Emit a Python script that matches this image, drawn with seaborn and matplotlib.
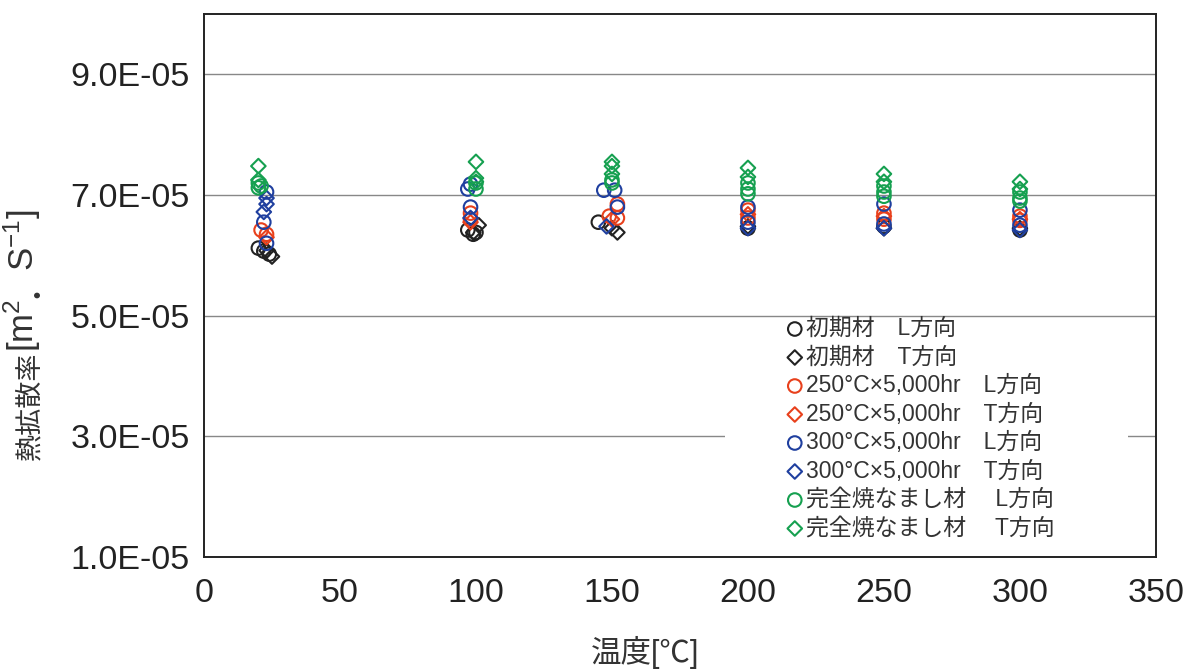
import numpy as np
import pandas as pd
import matplotlib
matplotlib.use("Agg")
import matplotlib.pyplot as plt
import matplotlib.ticker as mticker
from matplotlib.patches import Rectangle
import seaborn as sns

sns.set_theme(style="white")
plt.rcParams['font.family'] = ['Liberation Sans', 'Noto Sans CJK JP', 'DejaVu Sans']
plt.rcParams['mathtext.fontset'] = 'custom'
plt.rcParams['mathtext.rm'] = 'Liberation Sans'
plt.rcParams['mathtext.it'] = 'Liberation Sans:italic'
plt.rcParams['mathtext.default'] = 'regular'

# series labels (legend order)
labels = ["初期材　L方向", "初期材　T方向",
          "250°C×5,000hr　L方向", "250°C×5,000hr　T方向",
          "300°C×5,000hr　L方向", "300°C×5,000hr　T方向",
          "完全焼なまし材　 L方向", "完全焼なまし材　 T方向"]
colors = ["#222222", "#222222", "#e8401c", "#e8401c",
          "#1f3f9f", "#1f3f9f", "#16a050", "#16a050"]
markers = ["o", "D", "o", "D", "o", "D", "o", "D"]

# temperature [deg C] and diffusivity [x1e-5 m2/s] for each series
x_init_L = [20, 22, 24, 97, 100, 99, 145, 200, 250, 300]
y_init_L = [6.12, 6.07, 6.02, 6.42, 6.38, 6.35, 6.55, 6.45, 6.48, 6.42]
x_init_T = [23, 25, 101, 99, 150, 152, 200, 250, 300]
y_init_T = [6.08, 5.98, 6.50, 6.38, 6.45, 6.38, 6.48, 6.45, 6.45]
x_250_L = [21, 23, 98, 98, 152, 152, 149, 200, 200, 250, 250, 300, 300]
y_250_L = [6.42, 6.35, 6.70, 6.60, 6.85, 6.62, 6.65, 6.75, 6.62, 6.70, 6.60, 6.65, 6.58]
x_250_T = [23, 98, 150, 200, 250, 300]
y_250_T = [6.30, 6.55, 6.60, 6.68, 6.65, 6.60]
x_300_L = [23, 22, 23, 97, 98, 98, 147, 151, 152, 200, 200, 250, 250, 300, 300]
y_300_L = [7.05, 6.55, 6.20, 7.10, 7.18, 6.80, 7.08, 7.08, 6.80, 6.80, 6.55, 6.85, 6.52, 6.75, 6.50]
x_300_T = [23, 22, 23, 98, 148, 200, 250, 300]
y_300_T = [6.95, 6.72, 6.85, 6.62, 6.48, 6.45, 6.45, 6.42]
x_ann_L = [20, 20, 21, 100, 100, 150, 150, 200, 200, 200, 250, 250, 250, 300, 300, 300]
y_ann_L = [7.20, 7.12, 7.15, 7.20, 7.10, 7.25, 7.20, 7.10, 7.02, 7.20, 7.15, 7.05, 6.98, 7.05, 6.95, 6.90]
x_ann_T = [20, 20, 100, 100, 100, 150, 150, 150, 200, 200, 250, 250, 300, 300]
y_ann_T = [7.48, 7.25, 7.55, 7.28, 7.22, 7.55, 7.48, 7.35, 7.45, 7.30, 7.35, 7.22, 7.22, 7.10]

xs = [x_init_L, x_init_T, x_250_L, x_250_T, x_300_L, x_300_T, x_ann_L, x_ann_T]
ys = [y_init_L, y_init_T, y_250_L, y_250_T, y_300_L, y_300_T, y_ann_L, y_ann_T]

fig = plt.figure(figsize=(11.88, 6.69), dpi=100)
ax = fig.add_axes([0.1717, 0.1674, 0.8013, 0.8116])

for lab, c, m, x, y in zip(labels, colors, markers, xs, ys):
    df = pd.DataFrame({"temp": x, "val": np.array(y) * 1e-5})
    sns.scatterplot(data=df, x="temp", y="val", marker=m,
                    s=95 if m == "o" else 55, facecolors="none",
                    edgecolor=c, linewidth=1.5, label=lab, ax=ax, zorder=3)

ax.set_xlim(0, 350)
ax.set_ylim(1e-5, 1e-4)
ax.set_xticks(np.arange(0, 351, 50))
ax.set_yticks([1e-5, 3e-5, 5e-5, 7e-5, 9e-5])
ax.yaxis.set_minor_locator(mticker.MultipleLocator(0.4e-5))
ax.yaxis.set_major_formatter(mticker.FuncFormatter(lambda v, p: "%.1E" % v))
ax.tick_params(axis="both", which="both", direction="in", labelsize=24.5,
               colors="#222222", labelcolor="#222222")
ax.tick_params(axis="both", which="major", length=7, width=1.2)
ax.tick_params(axis="y", which="major", pad=10)
ax.tick_params(axis="x", which="major", pad=15)
ax.tick_params(axis="y", which="minor", length=5, width=1.2)
ax.grid(axis="y", which="major", color="#888888", linewidth=1.0, zorder=0)
for sp in ax.spines.values():
    sp.set_color("#222222")
    sp.set_linewidth(1.4)
ax.set_ylabel("")

ax.set_xlabel("温度[℃]", fontsize=22, color="#333333")
ax.xaxis.set_label_coords(0.463, -0.145)

# y label in pieces (CJK text + units with superscripts), bottom to top
t1 = fig.text(43 / 1188, 209 / 669, "熱拡散率", rotation=90,
              ha="right", va="bottom", fontsize=19.5, color="#333333")
t2 = ax.annotate("[m$^{2}$", xy=(1, 1), xycoords=t1, rotation=90,
                 ha="right", va="bottom", fontsize=25, color="#333333",
                 annotation_clip=False)
t3 = ax.annotate("・", xy=(0.5, 1), xycoords=(t1, t2), rotation=90,
                 ha="center", va="bottom", fontsize=19.5, color="#333333",
                 annotation_clip=False)
t4 = ax.annotate("S$^{-1}$]", xy=(1, 1), xycoords=(t2, t3), rotation=90,
                 ha="right", va="bottom", fontsize=25, color="#333333",
                 annotation_clip=False)

# white area behind the legend (hides the grid line)
ax.add_patch(Rectangle((0.547, 0.022), 0.424, 0.418, transform=ax.transAxes,
                       facecolor="white", edgecolor="none", zorder=1))

leg = ax.legend(loc="upper left", bbox_to_anchor=(0.611, 0.442), frameon=False,
                fontsize=16.5, handletextpad=0.1, handlelength=0.8,
                labelspacing=0.24, borderpad=0.0, borderaxespad=0.0)
for t in leg.get_texts():
    t.set_color("#333333")

fig.savefig("out.png", dpi=100)
